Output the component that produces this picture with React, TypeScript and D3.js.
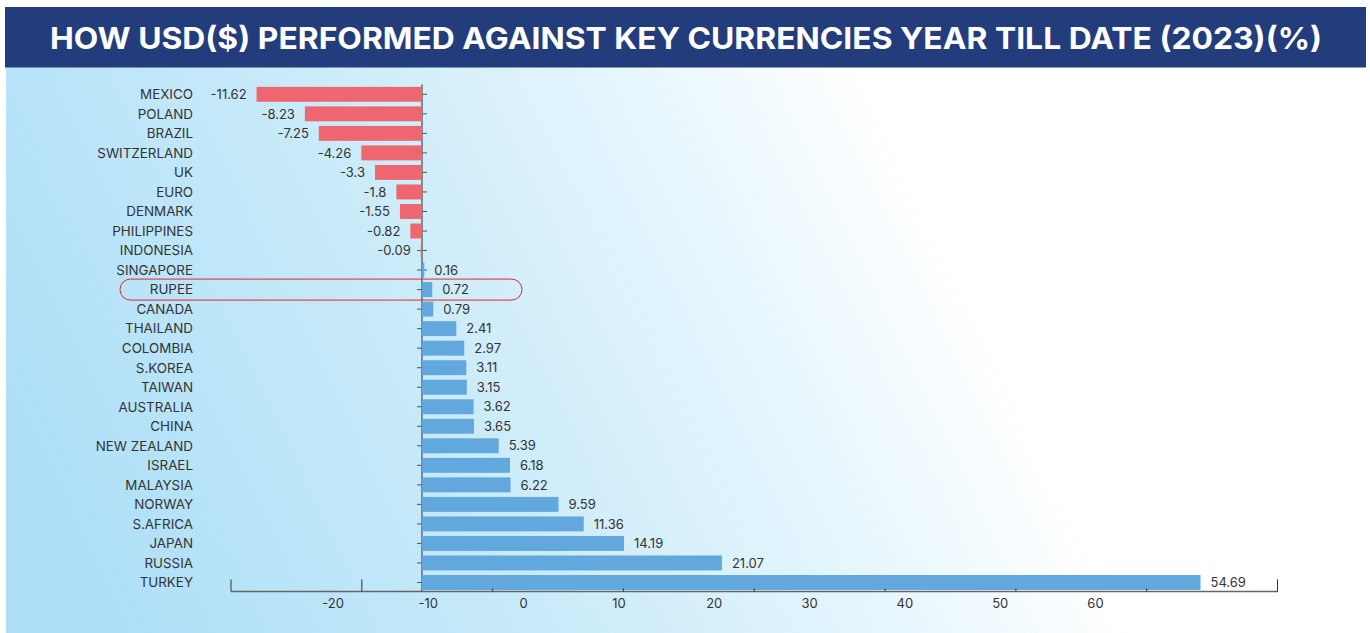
import React from "react";
import * as d3 from "d3";

const categories = [
  "MEXICO", "POLAND", "BRAZIL", "SWITZERLAND", "UK", "EURO", "DENMARK", "PHILIPPINES",
  "INDONESIA", "SINGAPORE", "RUPEE", "CANADA", "THAILAND", "COLOMBIA", "S.KOREA", "TAIWAN",
  "AUSTRALIA", "CHINA", "NEW ZEALAND", "ISRAEL", "MALAYSIA", "NORWAY", "S.AFRICA", "JAPAN",
  "RUSSIA", "TURKEY",
];
const values = [
  -11.62, -8.23, -7.25, -4.26, -3.3, -1.8, -1.55, -0.82, -0.09, 0.16, 0.72, 0.79, 2.41, 2.97,
  3.11, 3.15, 3.62, 3.65, 5.39, 6.18, 6.22, 9.59, 11.36, 14.19, 21.07, 54.69,
];
const valueLabels = [
  "-11.62", "-8.23", "-7.25", "-4.26", "-3.3", "-1.8", "-1.55", "-0.82", "-0.09", "0.16", "0.72",
  "0.79", "2.41", "2.97", "3.11", "3.15", "3.62", "3.65", "5.39", "6.18", "6.22", "9.59", "11.36",
  "14.19", "21.07", "54.69",
];
const axisTickValues = [-20, -10, 0, 10, 20, 30, 40, 50, 60];
const highlightCategory = "RUPEE";
const title = "HOW USD($) PERFORMED AGAINST KEY CURRENCIES YEAR TILL DATE (2023)(%)";

const W = 1370;
const H = 633;

export default function App() {
  const x = d3.scaleLinear().domain([0, 54.69]).range([422, 1200.5]);
  const y = d3
    .scaleBand<string>()
    .domain(categories)
    .range([84.5, 592.3])
    .paddingInner(0.235)
    .paddingOuter(0.12);
  const bw = y.bandwidth();
  const axisLabelScale = d3.scaleLinear().domain([-20, 60]).range([333, 1095.5]);
  const tickIdx = d3.range(9);
  const tickScale = d3.scaleLinear().domain([0, 8]).range([231, 1277.5]);
  const bigTicks = new Set([0, 1, 8]);
  const axisY = 591.5;

  const font = "Inter, 'Noto Sans', sans-serif";
  const hy = (y(highlightCategory) ?? 0) + bw / 2;

  return (
    <svg
      width={W}
      height={H}
      style={{ position: "absolute", left: 0, top: 0, display: "block" }}
    >
      <defs>
        <linearGradient id="bg" x1="0" y1="0.6" x2="1" y2="0.4">
          <stop offset="0" stopColor="#aedff8" />
          <stop offset="0.3" stopColor="#c8eaf9" />
          <stop offset="0.55" stopColor="#e6f6fd" />
          <stop offset="0.72" stopColor="#ffffff" />
          <stop offset="1" stopColor="#ffffff" />
        </linearGradient>
      </defs>
      <rect x={0} y={0} width={W} height={H} fill="#ffffff" />
      <rect x={6} y={67} width={1360} height={H - 67} fill="url(#bg)" />
      <rect x={5} y={7} width={1361} height={60.5} fill="#233c7b" />
      <text
        x={686}
        y={48.5}
        textAnchor="middle"
        fill="#ffffff"
        fontFamily="Inter, Roboto, sans-serif"
        fontWeight={700}
        fontSize={30}
        textLength={1272}
        lengthAdjust="spacingAndGlyphs"
      >
        {title}
      </text>

      {categories.map((c) => (
        <line
          key={"t" + c}
          x1={417}
          x2={427}
          y1={(y(c) ?? 0) + bw / 2}
          y2={(y(c) ?? 0) + bw / 2}
          stroke="#555"
          strokeWidth={1}
        />
      ))}
      <line x1={422} x2={422} y1={84.5} y2={axisY} stroke="#666" strokeWidth={1.5} />

      {categories.map((c, i) => {
        const v = values[i];
        const x0 = Math.min(x(0), x(v));
        const w = Math.abs(x(v) - x(0));
        return (
          <rect
            key={"b" + c}
            x={x0}
            y={y(c)}
            width={Math.max(w, 1)}
            height={bw}
            fill={v < 0 ? "#ee6670" : "#62a8dc"}
          />
        );
      })}

      {categories.map((c, i) => {
        const v = values[i];
        const cy = (y(c) ?? 0) + bw / 2;
        return (
          <text
            key={"v" + c}
            x={v < 0 ? x(v) - 10 : x(v) + 10}
            y={cy}
            dy="0.36em"
            textAnchor={v < 0 ? "end" : "start"}
            fontFamily={font}
            fontSize={13}
            fill="#333"
          >
            {valueLabels[i]}
          </text>
        );
      })}

      {categories.map((c) => (
        <text
          key={"c" + c}
          x={193}
          y={(y(c) ?? 0) + bw / 2}
          dy="0.36em"
          textAnchor="end"
          fontFamily={font}
          fontSize={13.4}
          fill="#333"
        >
          {c}
        </text>
      ))}

      <rect
        x={120}
        y={hy - 10.5}
        width={402}
        height={21}
        rx={10.5}
        fill="none"
        stroke="#e0262e"
        strokeWidth={1}
      />

      <line x1={231} x2={1278} y1={axisY} y2={axisY} stroke="#666" strokeWidth={1.5} />
      {tickIdx.map((k) => (
        <line
          key={"k" + k}
          x1={tickScale(k)}
          x2={tickScale(k)}
          y1={axisY}
          y2={bigTicks.has(k) ? axisY - 12 : axisY - 3}
          stroke="#333"
          strokeWidth={1}
        />
      ))}
      {axisTickValues.map((t) => (
        <text
          key={"a" + t}
          x={axisLabelScale(t)}
          y={603}
          dy="0.36em"
          textAnchor="middle"
          fontFamily={font}
          fontSize={13}
          fill="#333"
        >
          {t}
        </text>
      ))}
    </svg>
  );
}
